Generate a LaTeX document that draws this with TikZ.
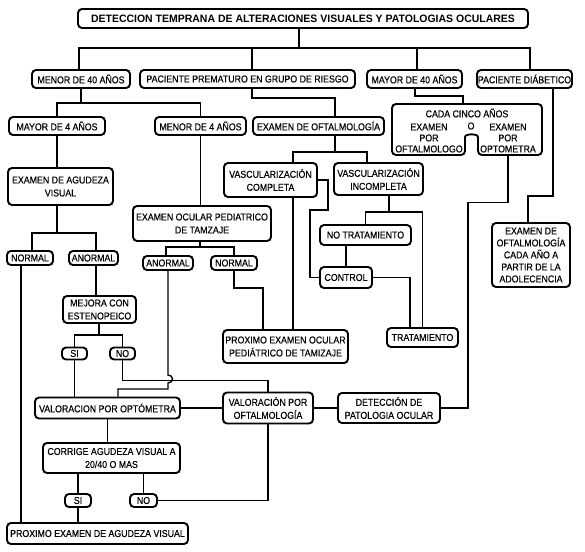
\documentclass[tikz,border=0pt]{standalone}
\usepackage{fontspec}
\setmainfont{Liberation Sans}[FakeStretch=0.88,FakeBold=0.35]
\newfontfamily\titlefont{Liberation Sans}[FakeStretch=0.98]
\begin{document}
\begin{tikzpicture}[x=1pt,y=-1pt,
  box/.style={draw=black, line width=1.9pt, rounded corners=4pt, inner sep=0pt, align=center, fill=white},
  conn/.style={line width=1.4pt, draw=black},
  txt/.style={inner sep=0pt, align=center},
  font=\fontsize{10}{13}\selectfont]
\fill[white] (0,0) rectangle (585,551);
\useasboundingbox (0,0) rectangle (585,551);

% nodes
\node[box,minimum width=450pt,minimum height=19pt,font=\titlefont\bfseries\fontsize{10.7}{12}\selectfont] (title) at (303,18.5) {DETECCION TEMPRANA DE ALTERACIONES VISUALES Y PATOLOGIAS OCULARES};
\node[box,minimum width=98pt,minimum height=18pt] (m40) at (81,79) {MENOR DE 40 AÑOS};
\node[box,minimum width=215pt,minimum height=18pt] (prem) at (247.5,79) {PACIENTE PREMATURO EN GRUPO DE RIESGO};
\node[box,minimum width=95pt,minimum height=18pt] (may40) at (414.5,79) {MAYOR DE 40 AÑOS};
\node[box,minimum width=95pt,minimum height=18pt] (diab) at (524.5,79) {PACIENTE DIÁBETICO};
\node[box,minimum width=96pt,minimum height=18pt] (may4) at (57,126) {MAYOR DE 4 AÑOS};
\node[box,minimum width=91pt,minimum height=18pt] (men4) at (200.5,126) {MENOR DE 4 AÑOS};
\node[box,minimum width=131pt,minimum height=18pt] (exof) at (318.5,126) {EXAMEN DE OFTALMOLOGÍA};

% cinco box (notched)
\draw[line width=1.9pt, rounded corners=4pt] (467,104) -- (542,104) -- (542,155) -- (478,155) -- (478,141)
  .. controls (478,133.5) and (465,133.5) .. (465,141) -- (465,155) -- (392,155) -- (392,104) -- cycle;
\node[inner sep=0pt,minimum width=150pt,minimum height=51pt] (cinco) at (467,129.5) {};
\node[txt] (ct) at (467,113) {CADA CINCO AÑOS};
\node[txt,font=\fontsize{10}{11}\selectfont] (cl) at (429,138) {EXAMEN\\POR\\OFTALMOLOGO};
\node[txt,font=\fontsize{10}{11}\selectfont] (cr) at (508,138) {EXAMEN\\POR\\OPTOMETRA};
\node[txt] (co) at (471,126) {O};

\node[box,minimum width=105pt,minimum height=37pt] (agud) at (60.5,186.5) {EXAMEN DE AGUDEZA\\VISUAL};
\node[box,minimum width=138pt,minimum height=35pt] (ped) at (202,223.5) {EXAMEN OCULAR PEDIATRICO\\DE TAMZAJE};
\node[box,minimum width=93pt,minimum height=34pt] (vc) at (270.5,180) {VASCULARIZACIÓN\\COMPLETA};
\node[box,minimum width=89pt,minimum height=32pt] (vi) at (378.5,179) {VASCULARIZACIÓN\\INCOMPLETA};
\node[box,minimum width=78pt,minimum height=64pt,font=\fontsize{10}{12}\selectfont] (anual) at (531,255) {EXAMEN DE\\OFTALMOLOGÍA\\CADA AÑO A\\PARTIR DE LA\\ADOLECENCIA};
\node[box,minimum width=46pt,minimum height=14pt] (norm1) at (30,258) {NORMAL};
\node[box,minimum width=49pt,minimum height=14pt] (anorm1) at (93.5,258) {ANORMAL};
\node[box,minimum width=50pt,minimum height=14pt] (anorm2) at (168,263) {ANORMAL};
\node[box,minimum width=46pt,minimum height=14pt] (norm2) at (234,263) {NORMAL};
\node[box,minimum width=91pt,minimum height=20pt] (notrat) at (365.5,235) {NO TRATAMIENTO};
\node[box,minimum width=52pt,minimum height=21pt] (control) at (346,277.5) {CONTROL};
\node[box,minimum width=73pt,minimum height=27pt] (mejora) at (99.5,309.5) {MEJORA CON\\ESTENOPEICO};
\node[box,minimum width=25pt,minimum height=12pt] (si1) at (74.5,353.5) {SI};
\node[box,minimum width=25pt,minimum height=12pt] (no1) at (122.5,353.5) {NO};
\node[box,minimum width=125pt,minimum height=33pt] (prox2) at (285.5,346.5) {PROXIMO EXAMEN OCULAR\\PEDIÁTRICO DE TAMIZAJE};
\node[box,minimum width=71pt,minimum height=19pt] (trat) at (422.5,337.5) {TRATAMIENTO};
\node[box,minimum width=145pt,minimum height=21pt] (vopt) at (107.5,408) {VALORACION POR OPTÓMETRA};
\node[box,minimum width=90pt,minimum height=31pt] (voft) at (268,408) {VALORACIÓN POR\\OFTALMOLOGÍA};
\node[box,minimum width=102pt,minimum height=30pt] (det) at (389,408) {DETECCIÓN DE\\PATOLOGIA OCULAR};
\node[box,minimum width=137pt,minimum height=30pt] (corr) at (111.5,458) {CORRIGE AGUDEZA VISUAL A\\20/40 O MAS};
\node[box,minimum width=26pt,minimum height=13pt] (si2) at (78,500.5) {SI};
\node[box,minimum width=27pt,minimum height=13pt] (no2) at (143.5,500.5) {NO};
\node[box,minimum width=181pt,minimum height=21pt] (prox1) at (97.5,533.5) {PROXIMO EXAMEN DE AGUDEZA VISUAL};

% connectors
\coordinate (tj) at (299,48);
\draw[conn] (title.south -| tj) -- (tj);
\draw[conn] ([xshift=-2pt]m40.north) |- (tj);
\draw[conn] ([xshift=5.5pt]diab.north) |- (tj);
\draw[conn] ([xshift=4.5pt]prem.north) |- (tj);
\draw[conn] ([xshift=2.5pt]may40.north) |- (tj);

\coordinate (j1) at (81,103);
\draw[conn] (m40.south) -- (j1);
\draw[conn] (may4.north) |- (j1);
\draw[conn] (men4.north) |- (j1);

\draw[conn] ([xshift=4.5pt]prem.south) -- ++(0,9) -| ([xshift=16.5pt]exof.north);
\draw[conn] ([xshift=0.5pt]may40.south) -- ++(0,7) -| ([xshift=-4pt]cinco.north);
\draw[conn] ([xshift=28.5pt]diab.south) -- ++(0,107) -| ([xshift=-3pt]anual.north);

\draw[conn] (may4.south) -- (may4.south |- agud.north);
\coordinate (j2) at (57,233);
\draw[conn] (agud.south -| j2) -- (j2);
\draw[conn] ([xshift=2pt]norm1.north) |- (j2);
\draw[conn] ([xshift=2.5pt]anorm1.north) |- (j2);

\coordinate (n1s) at ([xshift=-9pt]norm1.south);
\draw[conn] (n1s) -- (n1s |- prox1.north);
\coordinate (a1s) at ([xshift=2.5pt]anorm1.south);
\draw[conn] (a1s) -- (a1s |- mejora.north);

\coordinate (j3) at (99,335);
\draw[conn] (mejora.south -| j3) -- (j3);
\draw[conn] (si1.north) |- (j3);
\draw[conn] (no1.north) |- (j3);
\draw[conn] (si1.south) -- (si1.south |- vopt.north);
\draw[conn] (no1.south) -- ++(0,20) -| (voft.north);

\draw[conn] (men4.south) -- (men4.south |- ped.north);
\coordinate (j4) at (200,247);
\draw[conn] (ped.south -| j4) -- (j4);
\draw[conn] ([xshift=-2pt]anorm2.north) |- (j4);
\draw[conn] (norm2.north) |- (j4);

\coordinate (h1) at (168,375);
\coordinate (h2) at (168,383);
\draw[conn] (anorm2.south) -- (h1) .. controls +(6,0) and +(6,0) .. (h2) -- ++(0,6) -| ([xshift=10.5pt]vopt.north);
\draw[conn] (norm2.south) -- ++(0,17) -| ([xshift=-22.5pt]prox2.north);

\coordinate (j5) at (335,152);
\draw[conn] ([xshift=16.5pt]exof.south) -- (j5);
\draw[conn] ([xshift=22.5pt]vc.north) |- (j5);
\draw[conn] ([xshift=-11.5pt]vi.north) |- (j5);
\coordinate (vcs) at ([xshift=22.5pt]vc.south);
\draw[conn] (vcs) -- (vcs |- prox2.north);
\draw[conn] (vc.east) -- ++(10,0) -- ++(0,30) -- ++(-18,0) |- (control.west);

\coordinate (j6) at (389,212);
\draw[conn] ([xshift=10.5pt]vi.south) -- (j6);
\draw[conn] (notrat.north) |- (j6);
\draw[conn] (trat.north) |- (j6);
\draw[conn] (control.north |- notrat.south) -- (control.north);
\draw[conn] (control.east) -| ([xshift=-12.5pt]trat.north);

\draw[conn] ([xshift=41pt]cinco.south) -- ++(0,47) -- ++(-40,0) |- (det.east);
\draw[conn] (voft.east) -- (det.west);
\draw[conn] (vopt.east) -- (voft.west);
\draw[conn] (vopt.south) -- (vopt.south |- corr.north);
\draw[conn] (si2.north |- corr.south) -- (si2.north);
\draw[conn] (no2.north |- corr.south) -- (no2.north);
\draw[conn] (si2.south) -- (si2.south |- prox1.north);
\draw[conn] (no2.east) -| (voft.south);
\end{tikzpicture}
\end{document}
